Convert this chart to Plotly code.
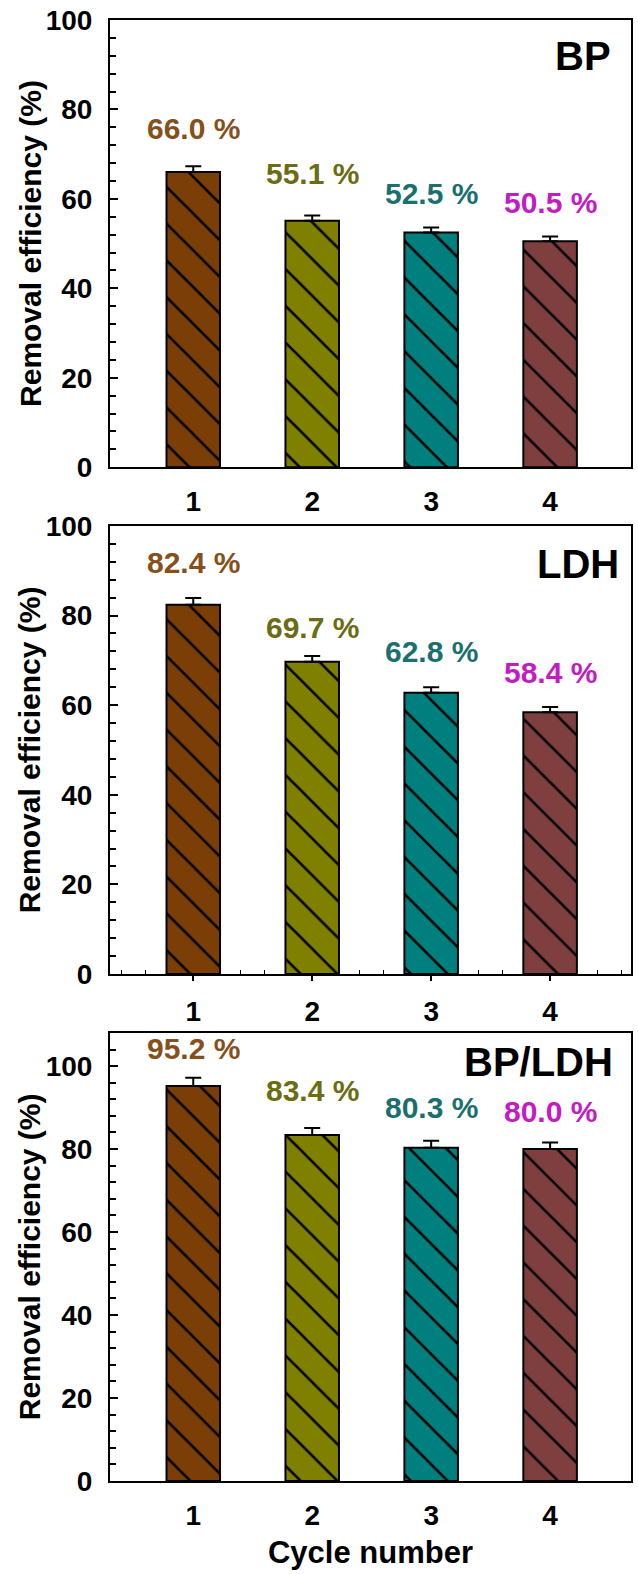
import plotly.graph_objects as go
from plotly.subplots import make_subplots

cycles = [1, 2, 3, 4]
tick_labels = ["1", "2", "3", "4"]
panel_names = ["BP", "LDH", "BP/LDH"]

bp_values = [66.0, 55.1, 52.5, 50.5]
ldh_values = [82.4, 69.7, 62.8, 58.4]
bpldh_values = [95.2, 83.4, 80.3, 80.0]

bp_err = [1.3, 1.2, 1.1, 1.1]
ldh_err = [1.5, 1.3, 1.2, 1.2]
bpldh_err = [2.0, 1.7, 1.7, 1.6]

bar_colors = ["#7a3e06", "#7f7f00", "#007f7f", "#7f3f3f"]
label_colors = ["#86501c", "#6c6c12", "#1b6f6f", "#c21cc2"]

values_all = [bp_values, ldh_values, bpldh_values]
err_all = [bp_err, ldh_err, bpldh_err]
y_ranges = [[0, 100], [0, 100], [0, 108]]

# layout: vertical gap (in axis units) between bar top and its value label
label_gaps = [[9.8, 10.5, 8.6, 8.7], [9.5, 7.7, 9.1, 9.0], [9.0, 10.7, 9.7, 9.1]]
name_pos = [(0.965, 0.92), (0.98, 0.915), (0.97, 0.935)]

FONT = "Liberation Sans, Arial, sans-serif"

fig = make_subplots(rows=3, cols=1, shared_xaxes=False, vertical_spacing=0.04)

domains = [[0.6939, 1.0], [0.3470, 0.6537], [0.0, 0.3067]]

for r, (vals, errs) in enumerate(zip(values_all, err_all), start=1):
    sfx = "" if r == 1 else str(r)
    for i, (c, v, e) in enumerate(zip(cycles, vals, errs)):
        fig.add_trace(
            go.Bar(
                x=[c],
                y=[v],
                width=0.45,
                marker=dict(
                    color=bar_colors[i],
                    line=dict(color="black", width=2),
                    pattern=dict(shape="\\", fgcolor="black", fgopacity=1,
                                 size=26, solidity=0.1, fillmode="overlay"),
                ),
                error_y=dict(type="data", array=[e], arrayminus=[0],
                             symmetric=False, color="black", thickness=2, width=8),
                showlegend=False,
            ),
            row=r, col=1,
        )
        fig.add_annotation(
            x=c, y=v + label_gaps[r - 1][i], xref=f"x{sfx}", yref=f"y{sfx}",
            text=f"{v:.1f} %", showarrow=False,
            font=dict(family=FONT, size=30, color=label_colors[i], weight="bold"),
        )
    fig.add_annotation(
        x=name_pos[r - 1][0], y=name_pos[r - 1][1],
        xref=f"x{sfx} domain", yref=f"y{sfx} domain",
        text=panel_names[r - 1], showarrow=False, xanchor="right", yanchor="middle",
        font=dict(family=FONT, size=40, color="black", weight="bold"),
    )
    # y-axis title
    fig.add_annotation(
        x=-80 / 523, y=0.5, xref=f"x{sfx} domain", yref=f"y{sfx} domain",
        text="Removal efficiency (%)", showarrow=False, textangle=-90,
        xanchor="center", yanchor="middle",
        font=dict(family=FONT, size=30, color="black", weight="bold"),
    )

for r in range(1, 4):
    fig.update_yaxes(
        row=r, col=1, domain=domains[r - 1], range=y_ranges[r - 1],
        dtick=20, tick0=0, ticks="inside", ticklen=8, tickwidth=2, tickcolor="black",
        minor=dict(dtick=4, ticks="inside", ticklen=6, tickwidth=1.5, tickcolor="black"),
        showline=True, linecolor="black", linewidth=2, mirror=True,
        showgrid=False, zeroline=False,
        tickfont=dict(family=FONT, size=28, color="black", weight="bold"),
        ticklabelstandoff=10,
    )
    xa = dict(
        range=[0.3, 4.68], tickmode="array", tickvals=cycles, ticktext=tick_labels,
        showline=True, linecolor="black", linewidth=2, mirror=True,
        showgrid=False, zeroline=False,
        tickfont=dict(family=FONT, size=28, color="black", weight="bold"),
    )
    if r == 2:
        xa.update(ticks="outside", ticklen=5, tickwidth=1.5, tickcolor="black",
                  minor=dict(dtick=0.2, tick0=0, ticks="inside", ticklen=4,
                             tickwidth=1, tickcolor="black"),
                  layer="below traces", ticklabelstandoff=6)
    else:
        xa.update(ticks="", ticklabelstandoff=8)
    if r == 3:
        xa.update(title=dict(text="Cycle number", standoff=12,
                             font=dict(family=FONT, size=31, color="black", weight="bold")))
    fig.update_xaxes(row=r, col=1, **xa)

fig.update_layout(
    width=638, height=1574,
    margin=dict(l=110, r=5, t=14, b=93),
    plot_bgcolor="white", paper_bgcolor="white",
    barmode="overlay",
)

fig.write_html("out.html")
